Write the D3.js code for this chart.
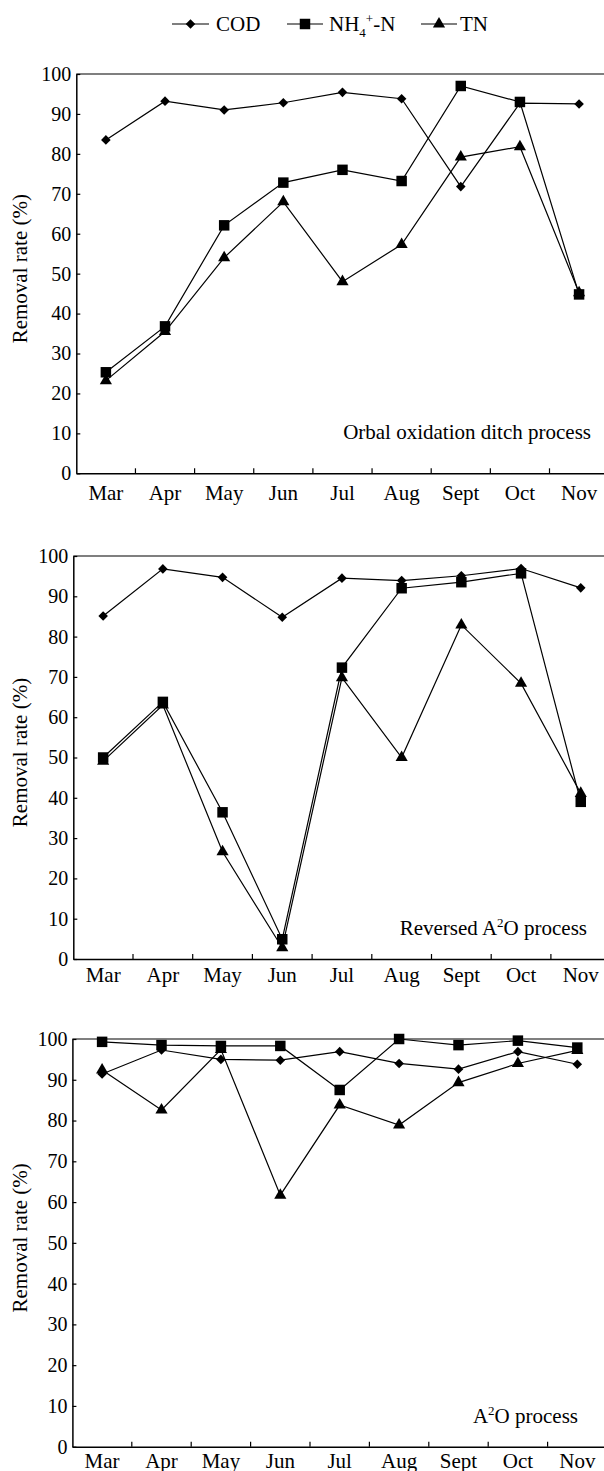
<!DOCTYPE html>
<html>
<head>
<meta charset="utf-8">
<script src="https://cdn.jsdelivr.net/npm/d3@7"></script>
<style>
  body { margin: 0; background: #fff; }
  svg text { font-family: "Liberation Serif", "Times New Roman", Times, "DejaVu Serif", serif; fill: #000; }
</style>
</head>
<body>
<svg id="chart" width="604" height="1471"></svg>
<script>
const FONT = '"Liberation Serif", "Times New Roman", Times, "DejaVu Serif", serif'

// months on the x axis
const months = ["Mar", "Apr", "May", "Jun", "Jul", "Aug", "Sept", "Oct", "Nov"]
const yTicks = [0, 10, 20, 30, 40, 50, 60, 70, 80, 90, 100]

// Orbal oxidation ditch process
const orbalCOD = [83.5, 93.2, 91.0, 92.8, 95.4, 93.8, 71.8, 92.7, 92.5]
const orbalNH4 = [25.3, 36.8, 62.1, 72.8, 76.0, 73.2, 97.0, 93.0, 44.8]
const orbalTN = [23.2, 35.5, 54.0, 68.0, 48.0, 57.3, 79.2, 81.8, 45.2]

// Reversed A2O process
const revCOD = [85.1, 96.8, 94.7, 84.8, 94.5, 93.9, 95.1, 96.9, 92.1]
const revNH4 = [50.0, 63.8, 36.4, 4.9, 72.3, 92.0, 93.5, 95.7, 39.0]
const revTN = [49.1, 63.0, 26.6, 2.8, 69.8, 50.0, 82.9, 68.4, 41.1]

// A2O process
const a2oCOD = [91.4, 97.3, 95.0, 94.8, 96.9, 94.0, 92.6, 96.9, 93.8]
const a2oNH4 = [99.3, 98.5, 98.3, 98.3, 87.5, 100, 98.5, 99.6, 97.9]
const a2oTN = [92.4, 82.6, 97.4, 61.7, 83.8, 78.9, 89.3, 94.0, 97.2]

const svg = d3.select("#chart")
svg.append("rect").attr("width", 604).attr("height", 1471).attr("fill", "#fff")

// marker shapes, shared by legend and plots
const markers = {
    cod: { type: d3.symbolSquare, size: 46, rotate: 45 },
    nh4: { type: d3.symbolSquare, size: 110, rotate: 0 },
    tn: { type: d3.symbolTriangle, size: 64, rotate: 0 }
}

function drawMarker(g, key, x, y) {
    const m = markers[key]
    g.append("path")
        .attr("d", d3.symbol().type(m.type).size(m.size)())
        .attr("transform", `translate(${x},${y}) rotate(${m.rotate})`)
        .attr("fill", "#000")
}

// panel layout
const panels = [
    { top: 74, bottom: 473.3, left: 76.3, band: 59.15, labelDy: 26.7,
      title: ["Orbal oxidation ditch process"], titleX: 591, titleY: 439,
      data: { cod: orbalCOD, nh4: orbalNH4, tn: orbalTN } },
    { top: 556, bottom: 959, left: 73.3, band: 59.7, labelDy: 22.7,
      title: ["Reversed A", "2", "O process"], titleX: 587, titleY: 935,
      data: { cod: revCOD, nh4: revNH4, tn: revTN } },
    { top: 1039, bottom: 1446.7, left: 72.4, band: 59.4, labelDy: 21.3,
      title: ["A", "2", "O process"], titleX: 578, titleY: 1423,
      data: { cod: a2oCOD, nh4: a2oNH4, tn: a2oTN } }
]

panels.forEach(p => {
    const x = d3.scaleBand()
        .domain(months)
        .range([p.left, p.left + p.band * months.length])
        .paddingInner(0).paddingOuter(0)
    const y = d3.scaleLinear().domain([0, 100]).range([p.bottom, p.top])
    const g = svg.append("g")
    const cx = m => x(m) + x.bandwidth() / 2

    // top frame line
    g.append("line")
        .attr("x1", p.left).attr("x2", 604)
        .attr("y1", y(100)).attr("y2", y(100))
        .attr("stroke", "#000").attr("stroke-width", 1.2)

    // y axis
    const yAxis = g.append("g")
        .attr("transform", `translate(${p.left},0)`)
        .call(d3.axisLeft(y).tickValues(yTicks).tickSize(-4).tickSizeOuter(0).tickPadding(5))
    yAxis.attr("font-family", FONT).attr("font-size", 20)
    yAxis.select(".domain").attr("stroke-width", 1.5)
    yAxis.selectAll(".tick line").attr("stroke-width", 1.2)
    yAxis.selectAll(".tick text")
        .style("font-family", FONT)
        .style("font-size", "20px").attr("fill", "#000")

    // x axis
    const xAxis = g.append("g")
        .attr("transform", `translate(0,${p.bottom})`)
        .call(d3.axisBottom(x).tickSize(0).tickSizeOuter(0).tickPadding(0))
    xAxis.attr("font-family", FONT).attr("font-size", 21)
    xAxis.select(".domain").attr("stroke-width", 1.6)
    xAxis.selectAll(".tick text")
        .attr("y", p.labelDy).attr("dy", 0)
        .style("font-family", FONT)
        .style("font-size", "21px").attr("fill", "#000")
    // tick marks on the band boundaries, pointing inward
    g.selectAll(".xtick")
        .data(months.slice(1))
        .enter().append("line")
        .attr("x1", d => x(d)).attr("x2", d => x(d))
        .attr("y1", p.bottom).attr("y2", p.bottom - 5)
        .attr("stroke", "#000").attr("stroke-width", 1.2)

    // y label
    const midY = (p.top + p.bottom) / 2 - 5
    g.append("text")
        .attr("transform", `translate(20,${midY}) rotate(-90)`)
        .attr("text-anchor", "middle")
        .attr("dominant-baseline", "central")
        .style("font-family", FONT)
        .style("font-size", "21px")
        .text("Removal rate (%)")

    // panel title
    const t = g.append("text")
        .attr("x", p.titleX).attr("y", p.titleY)
        .attr("text-anchor", "end")
        .style("font-family", FONT)
        .style("font-size", "21px")
    t.append("tspan").text(p.title[0])
    if (p.title.length > 1) {
        t.append("tspan").attr("dy", -8).style("font-size", "13px").text(p.title[1])
        t.append("tspan").attr("dy", 8).text(p.title[2])
    }

    // series lines and markers
    const line = d3.line().x((d, i) => cx(months[i])).y(d => y(d))
    ;["tn", "nh4", "cod"].forEach(key => {
        const vals = p.data[key]
        g.append("path")
            .datum(vals)
            .attr("d", line)
            .attr("fill", "none")
            .attr("stroke", "#000")
            .attr("stroke-width", 1.2)
        vals.forEach((v, i) => drawMarker(g, key, cx(months[i]), y(v)))
    })
})

// legend
const legend = svg.append("g")
const legendItems = [
    { key: "cod", x1: 172, x2: 209, tx: 216 },
    { key: "nh4", x1: 287, x2: 323, tx: 329 },
    { key: "tn", x1: 421, x2: 457, tx: 460 }
]
legendItems.forEach(it => {
    legend.append("line")
        .attr("x1", it.x1).attr("x2", it.x2)
        .attr("y1", 24).attr("y2", 24)
        .attr("stroke", "#000").attr("stroke-width", 1.2)
    drawMarker(legend, it.key, (it.x1 + it.x2) / 2, 24)
})
const lt = legend.append("g").style("font-family", FONT).style("font-size", "21px")
lt.append("text").attr("x", 216).attr("y", 31).text("COD")
const nh = lt.append("text").attr("x", 329).attr("y", 31)
nh.append("tspan").text("NH")
nh.append("tspan").attr("dy", 6).style("font-size", "13px").text("4")
nh.append("tspan").attr("dy", -14).style("font-size", "13px").text("+")
nh.append("tspan").attr("dy", 8).text("-N")
lt.append("text").attr("x", 460).attr("y", 31).text("TN")
</script>
</body>
</html>
